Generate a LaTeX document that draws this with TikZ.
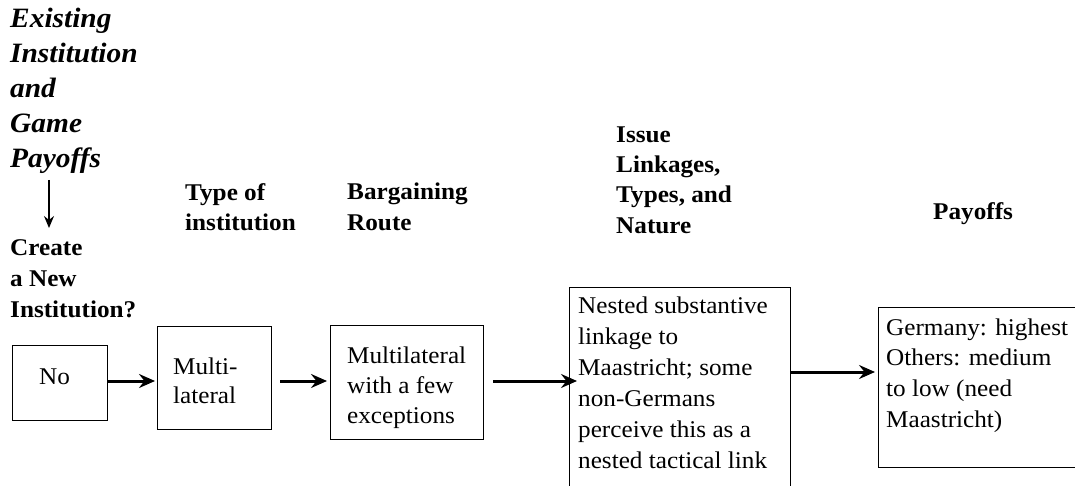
\documentclass[tikz,border=0pt]{standalone}
\usepackage{fontspec}
\setmainfont{Liberation Serif}[FakeStretch=1.05]
\usetikzlibrary{arrows.meta}
\begin{document}
\begin{tikzpicture}[x=1pt,y=-1pt,
  box/.style={draw=black,line width=1.3pt,inner sep=0pt,anchor=north west},
  bodytext/.style={inner sep=0pt,align=left,anchor=north west,font=\fontsize{24}{31}\selectfont},
  headtext/.style={inner sep=0pt,align=left,anchor=north west,font=\fontsize{24}{30}\selectfont\bfseries},
  lefttext/.style={inner sep=0pt,align=left,anchor=north west,font=\fontsize{28}{35}\selectfont\bfseries\itshape},
  thickarrow/.style={line width=3pt,-{Stealth[length=16pt,width=14pt,inset=5.5pt]}},
  thinarrow/.style={line width=1.4pt,-{Stealth[length=12pt,width=10pt,inset=4pt]}}]
\clip (0,0) rectangle (1075,486);
\fill[white] (0,0) rectangle (1075,486);

% headings
\node[lefttext] (existing) at (10,2.5) {\strut Existing\\Institution\\and\\Game\\Payoffs};
\node[headtext,font=\fontsize{24}{31}\selectfont\bfseries] (create) at (10,233.3) {\strut Create\\a New\\Institution?};
\node[headtext] (typehead) at (185,179) {\strut Type of\\institution};
\node[headtext,font=\fontsize{24}{31}\selectfont\bfseries] (barghead) at (347,177.3) {\strut Bargaining\\Route};
\node[headtext,font=\fontsize{24}{30.3}\selectfont\bfseries] (issuehead) at (616,120.8) {\strut Issue\\Linkages,\\Types, and\\Nature};
\node[inner sep=0pt,anchor=base west,font=\fontsize{24}{30}\selectfont\bfseries] (payhead) at (933,220) {Payoffs};

% vertical arrow
\coordinate (vtop) at (49,180);
\coordinate (vbot) at (49,228);
\draw[thinarrow] (vtop) -- (vbot);

% boxes
\node[box,minimum width=95pt,minimum height=75pt] (no) at (12,345) {};
\node[box,minimum width=114pt,minimum height=103pt] (multi) at (157,326) {};
\node[box,minimum width=153pt,minimum height=114pt] (exc) at (330,325) {};
\node[box,minimum width=221pt,minimum height=225pt] (nested) at (569,287) {};
\node[box,minimum width=225pt,minimum height=160pt] (pay) at (878,307) {};

% box texts
\node[inner sep=0pt,anchor=base west,font=\fontsize{24}{31}\selectfont] (notext) at (39,384) {No};
\node[bodytext,font=\fontsize{24}{29}\selectfont] (multitext) at (173,353.7) {\strut Multi-\\lateral};
\node[bodytext,font=\fontsize{24}{30}\selectfont] (exctext) at (347,342) {\strut Multilateral\\with a few\\exceptions};
\node[bodytext] (nestedtext) at (578,291.3) {\strut Nested substantive\\linkage to\\Maastricht; some\\non-Germans\\perceive this as a\\nested tactical link};
\node[bodytext,font=\fontsize{24}{30.7}\selectfont] (paytext) at (886,313.5) {\strut Germany: highest\\Others: medium\\to low (need\\Maastricht)};

% connectors
\coordinate (rowa) at (0,381);
\coordinate (rowb) at (0,372);
\draw[thickarrow,shorten >=2pt] (no.east |- rowa) -- (multi.west |- rowa);
\draw[thickarrow,shorten <=8pt,shorten >=3pt] (multi.east |- rowa) -- (exc.west |- rowa);
\draw[thickarrow,shorten <=9pt,shorten >=-8pt] (exc.east |- rowa) -- (nested.west |- rowa);
\draw[thickarrow,shorten >=3pt] (nested.east |- rowb) -- (pay.west |- rowb);
\end{tikzpicture}
\end{document}
